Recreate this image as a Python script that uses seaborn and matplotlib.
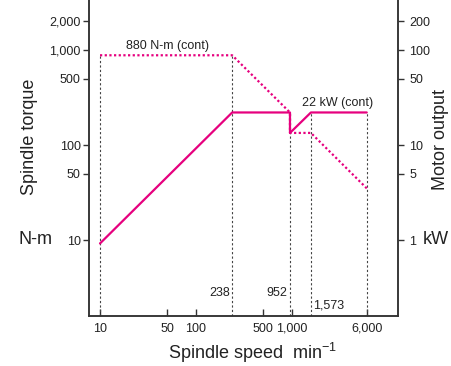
import matplotlib
matplotlib.use("Agg")
import matplotlib.pyplot as plt
import matplotlib.ticker as mticker
import seaborn as sns
import pandas as pd
import numpy as np

# ---- data ----
speed_marks = [10, 238, 952, 1573, 6000]
mark_tops = [880, 880, 220, 220, 220]          # torque-scale top of guide lines
torque_speed = [10, 238, 952, 952, 1573, 6000]
torque_nm = [880, 880, 220, 134, 134, 35]
power_speed = [10, 238, 952, 952, 1573, 6000]
power_kw = [0.92, 22, 22, 13.4, 22, 22]
x_ticks = [10, 50, 100, 500, 1000, 6000]
y_ticks = [10, 50, 100, 500, 1000, 2000]
y2_ticks = [1, 5, 10, 50, 100, 200]
speed_labels = ["238", "952", "1,573"]

sns.set_style("ticks")
plt.rcParams["font.family"] = ["Liberation Sans", "DejaVu Sans"]
plt.rcParams["mathtext.fontset"] = "custom"
plt.rcParams["mathtext.rm"] = "Liberation Sans"
plt.rcParams["mathtext.it"] = "Liberation Sans"

MAG = "#E6007E"
DARK = "#333333"

fig = plt.figure(figsize=(4.52, 3.66), dpi=100)
ax = fig.add_axes([89/452, 50/366, (398-89)/452, 316/366])
ax2 = ax.twinx()

ylo, yhi = 1.585, 3360
xlo, xhi = 7.68, 12700
ax.set_xscale("log"); ax.set_yscale("log")
ax2.set_yscale("log")
ax.set_xlim(xlo, xhi); ax.set_ylim(ylo, yhi)
ax2.set_ylim(ylo/10, yhi/10)

# guide lines
ax.vlines(speed_marks, ylo, mark_tops, colors="#444444", linestyles=(0, (2, 2)), linewidth=0.8, zorder=1)

df_t = pd.DataFrame({"speed": torque_speed, "torque": torque_nm})
df_p = pd.DataFrame({"speed": power_speed, "power": power_kw})
sns.lineplot(data=df_t, x="speed", y="torque", ax=ax, sort=False, estimator=None,
             color=MAG, linewidth=1.6, linestyle=(0, (1, 1.1)), zorder=3)
sns.lineplot(data=df_p, x="speed", y="power", ax=ax2, sort=False, estimator=None,
             color=MAG, linewidth=1.6, zorder=3)

# ticks
fmt = mticker.FuncFormatter(lambda v, p: f"{v:,.0f}")
ax.set_xticks(x_ticks); ax.xaxis.set_major_formatter(fmt)
ax.set_yticks(y_ticks); ax.yaxis.set_major_formatter(fmt)
ax2.set_yticks(y2_ticks); ax2.yaxis.set_major_formatter(fmt)
for a in (ax, ax2):
    a.minorticks_off()
    a.xaxis.set_minor_locator(mticker.NullLocator())
    a.yaxis.set_minor_locator(mticker.NullLocator())
    a.spines["top"].set_visible(False)
    for s in ("left", "right", "bottom"):
        a.spines[s].set_color(DARK)
        a.spines[s].set_linewidth(1.1)
ax.tick_params(axis="x", direction="in", length=5, width=1, labelsize=9, pad=5, colors=DARK, labelcolor="#222222")
ax.tick_params(axis="y", direction="out", length=4, width=1, labelsize=9, pad=2, colors=DARK, labelcolor="#222222")
ax2.tick_params(axis="y", direction="out", length=4, width=1, labelsize=9, pad=4, colors=DARK, labelcolor="#222222")
ax.set_xlabel(""); ax.set_ylabel(""); ax2.set_ylabel("")
ax.grid(False); ax2.grid(False)

# annotations
ax.text(225, 2.77, speed_labels[0], ha="right", va="center", fontsize=9, color="#222222")
ax.text(900, 2.77, speed_labels[1], ha="right", va="center", fontsize=9, color="#222222")
ax.text(1640, 2.05, speed_labels[2], ha="left", va="center", fontsize=9, color="#222222")
ax.text(51, 960, "880 N-m (cont)", ha="center", va="bottom", fontsize=9, color="#222222")
ax2.text(3000, 24, "22 kW (cont)", ha="center", va="bottom", fontsize=9, color="#222222")

# axis labels
fig.text(30/452, 1-137/366, "Spindle torque", rotation=90, ha="center", va="center", fontsize=13, color="#222222")
fig.text(36/452, 1-240/366, "N-m", ha="center", va="center", fontsize=13, color="#222222")
fig.text(441/452, 1-140/366, "Motor output", rotation=90, ha="center", va="center", fontsize=13, color="#222222")
fig.text(449/452, 1-240/366, "kW", ha="right", va="center", fontsize=13, color="#222222")
fig.text(253/452, 1-353/366, "Spindle speed  min$^{-1}$", ha="center", va="center", fontsize=13, color="#222222")

fig.savefig("out.png", dpi=100)
